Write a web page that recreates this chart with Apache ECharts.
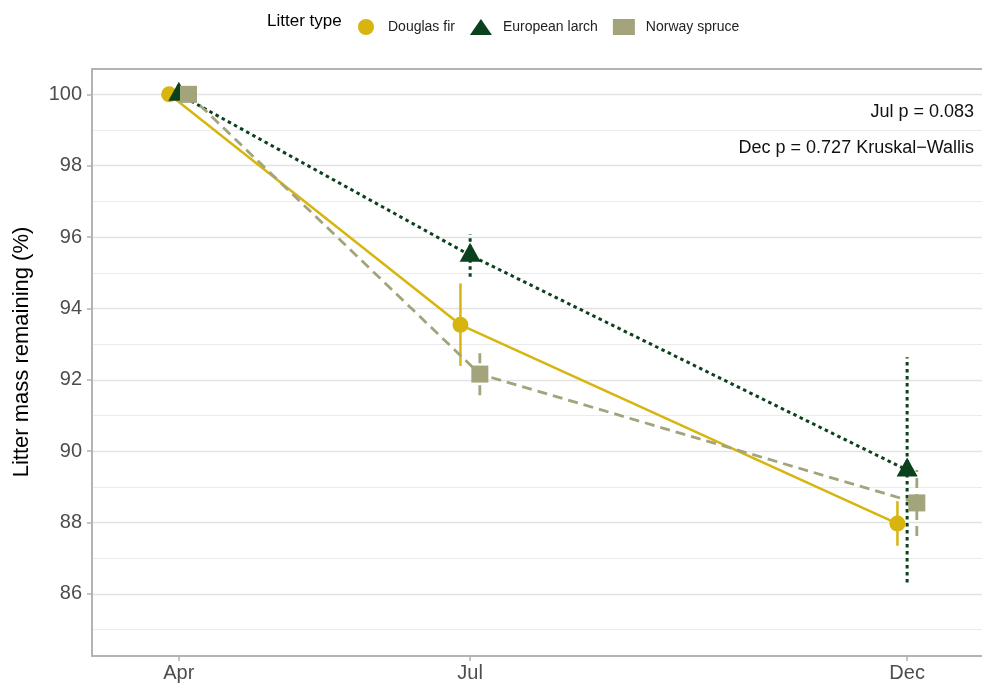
<!DOCTYPE html>
<html>
<head>
<meta charset="utf-8">
<script src="https://cdn.jsdelivr.net/npm/echarts@6/dist/echarts.min.js"></script>
<style>
  html, body { margin: 0; padding: 0; background: #fff; }
  #main { width: 982px; height: 686px; }
</style>
</head>
<body>
<div id="main"></div>
<script>
// sampling dates (Apr, Jul, Dec) on a day-like scale
var months = ['Apr', 'Jul', 'Dec'];
var monthPos = [0, 100, 250];

// litter mass remaining (%), mean and error bar ends
var douglasMean = [100, 93.54, 87.97];
var douglasLow  = [100, 92.39, 87.35];
var douglasHigh = [100, 94.70, 88.60];

var larchMean = [100, 95.49, 89.47];
var larchLow  = [100, 94.89, 86.32];
var larchHigh = [100, 96.08, 92.63];

var spruceMean = [100, 92.16, 88.55];
var spruceLow  = [100, 91.57, 87.62];
var spruceHigh = [100, 92.76, 89.47];

var yMajor = [86, 88, 90, 92, 94, 96, 98, 100];
var yMinor = [85, 87, 89, 91, 93, 95, 97, 99];

var FONT = "'Liberation Sans', Arial, sans-serif";
var DODGE = 3.33;
var X_MIN = -29.8, X_MAX = 275.7;
var Y_MIN = 84.26, Y_MAX = 100.71;
var FRAME = {color: '#b3b3b3', width: 2};

var types = [
  {name: 'Douglas fir', mean: douglasMean, low: douglasLow, high: douglasHigh,
   color: '#d7b50e', symbol: 'circle', size: 16, offset: [0, 0], dash: 'solid', width: 2.5, dx: -DODGE},
  {name: 'European larch', mean: larchMean, low: larchLow, high: larchHigh,
   color: '#0b421d', symbol: 'triangle', size: [21, 19], offset: [0, -3], dash: [3.5, 3.5], width: 3, dx: 0},
  {name: 'Norway spruce', mean: spruceMean, low: spruceLow, high: spruceHigh,
   color: '#a3a37c', symbol: 'rect', size: 17, offset: [0, 0], dash: [10, 6], width: 2.8, dx: DODGE}
];

var series = [];
types.forEach(function(t, k) {
  // error bars
  series.push({
    type: 'custom',
    name: t.name + ' err',
    z: 3 + k,
    silent: true,
    data: monthPos.map(function(m, i) { return [m + t.dx, t.low[i], t.high[i]]; }),
    encode: {x: 0, y: [1, 2]},
    renderItem: function(params, api) {
      var a = api.coord([api.value(0), api.value(1)]);
      var b = api.coord([api.value(0), api.value(2)]);
      return {
        type: 'line',
        shape: {x1: a[0], y1: a[1], x2: b[0], y2: b[1]},
        style: {stroke: t.color, lineWidth: t.width, lineDash: t.dash === 'solid' ? null : t.dash}
      };
    }
  });
  // mean line with points
  series.push({
    type: 'line',
    name: t.name,
    z: k === 1 ? 12 : 10 + k,
    data: monthPos.map(function(m, i) { return [m + t.dx, t.mean[i]]; }),
    symbol: t.symbol,
    symbolSize: t.size,
    symbolOffset: t.offset,
    showAllSymbol: true,
    itemStyle: {color: t.color, opacity: 1},
    lineStyle: {color: t.color, width: t.width, type: t.dash},
    emphasis: {disabled: true}
  });
});

var chart = echarts.init(document.getElementById('main'));
chart.setOption({
  animation: false,
  textStyle: {fontFamily: FONT},
  grid: {left: 92, top: 69, right: 0, bottom: 30},
  legend: {
    left: 353, top: 14, itemWidth: 22, itemHeight: 16, itemGap: 15,
    textStyle: {fontSize: 14, color: '#222', fontFamily: FONT, padding: [0, 0, 0, 6]},
    data: [
      {name: 'Douglas fir', icon: 'circle'},
      {name: 'European larch', icon: 'triangle'},
      {name: 'Norway spruce', icon: 'rect'}
    ],
    selectedMode: false
  },
  xAxis: [{
    type: 'value', min: X_MIN, max: X_MAX, position: 'bottom',
    axisLine: {show: true, onZero: false, lineStyle: FRAME},
    splitLine: {show: false},
    axisTick: {show: true, length: 5, lineStyle: {color: '#b3b3b3', width: 1.5}, customValues: monthPos},
    axisLabel: {
      customValues: monthPos, margin: 7, fontSize: 20, color: '#4d4d4d', fontFamily: FONT,
      formatter: function(v) { return months[monthPos.indexOf(v)]; }
    }
  }, {
    type: 'value', min: X_MIN, max: X_MAX, position: 'top',
    axisLine: {show: true, onZero: false, lineStyle: FRAME},
    splitLine: {show: false}, axisTick: {show: false}, axisLabel: {show: false}
  }],
  yAxis: [{
    type: 'value', min: Y_MIN, max: Y_MAX, position: 'left',
    axisLine: {show: true, onZero: false, lineStyle: FRAME},
    axisTick: {show: true, length: 5, lineStyle: {color: '#b3b3b3', width: 1.5}, customValues: yMajor},
    axisLabel: {customValues: yMajor, margin: 10, fontSize: 20, color: '#4d4d4d', fontFamily: FONT},
    splitLine: {show: true, lineStyle: {color: '#e2e2e2', width: 1.4}}
  }, {
    type: 'value', min: Y_MIN, max: Y_MAX, position: 'left',
    axisLine: {show: false, onZero: false},
    axisTick: {show: false, customValues: yMinor},
    axisLabel: {show: false, customValues: yMinor},
    splitLine: {show: true, lineStyle: {color: '#ebebeb', width: 1}}
  }],
  graphic: [
    {type: 'text', left: 267, top: 13,
     style: {text: 'Litter type', fill: '#000', font: '17px ' + FONT}},
    {type: 'text', x: 22, y: 352, rotation: Math.PI / 2,
     style: {text: 'Litter mass remaining (%)', font: '22px ' + FONT, fill: '#000',
             align: 'center', verticalAlign: 'middle'}},
    {type: 'text', x: 974, y: 112, z: 20,
     style: {text: 'Jul p = 0.083', font: '18px ' + FONT, fill: '#111',
             align: 'right', verticalAlign: 'middle'}},
    {type: 'text', x: 974, y: 148, z: 20,
     style: {text: 'Dec p = 0.727 Kruskal\u2212Wallis', font: '18px ' + FONT, fill: '#111',
             align: 'right', verticalAlign: 'middle'}}
  ],
  series: series
});
</script>
</body>
</html>
